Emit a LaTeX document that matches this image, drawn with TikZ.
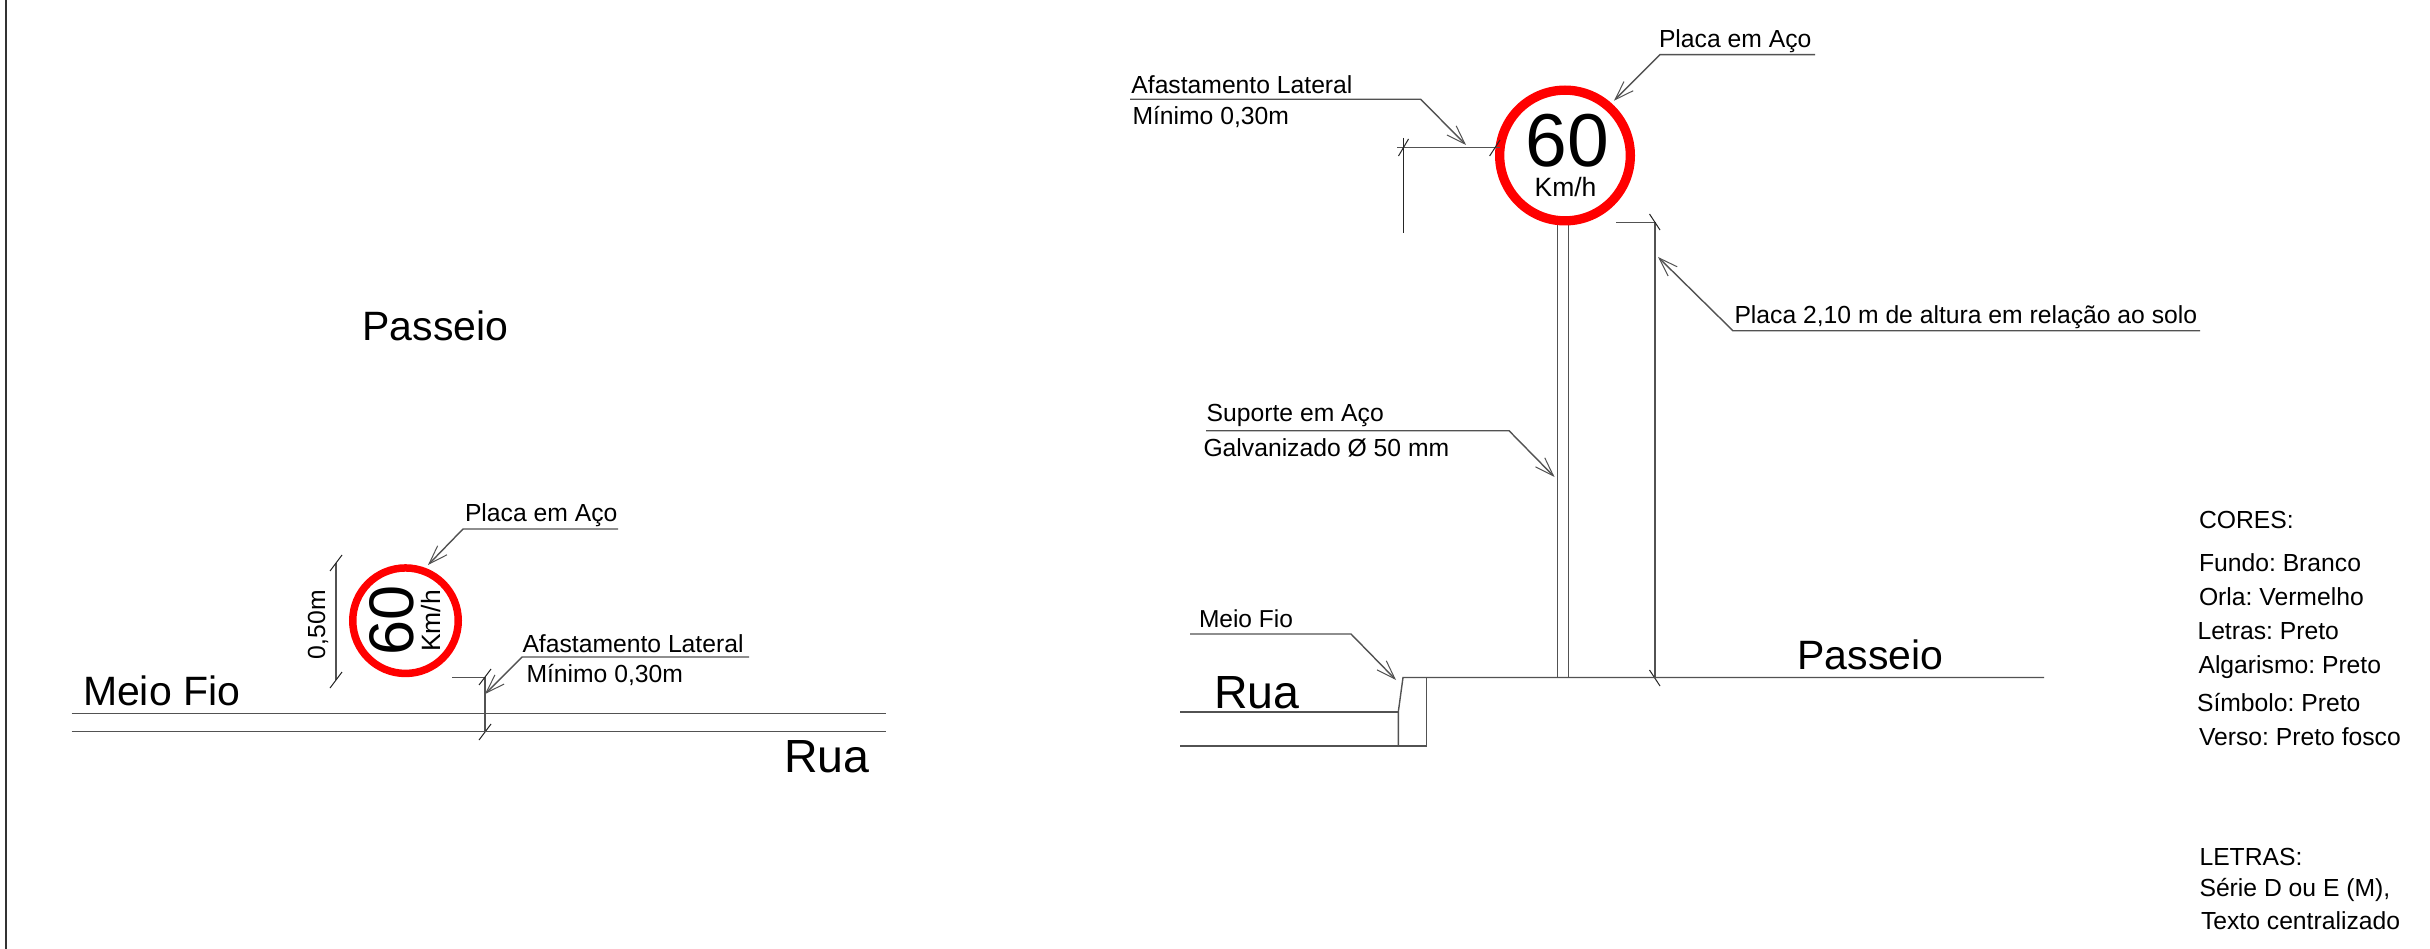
\documentclass[tikz,border=0pt]{standalone}
\usepackage{fontspec}
\setmainfont{Liberation Sans}
\usetikzlibrary{arrows.meta}
\tikzset{
  x=1pt,y=-1pt,
  ln/.style={line width=1.4pt,draw=black!68},
  thin ln/.style={line width=1pt,draw=black!85},
  lead/.style={ln,-{Straight Barb[length=19pt,width=13pt,line width=1pt]}},
  lbl/.style={anchor=base west,inner sep=0pt,outer sep=0pt,text=black},
  ring/.style={circle,draw=red,fill=white,inner sep=0pt},
}
\newcommand{\fs}[1]{\fontsize{#1}{#1}\selectfont}
\frenchspacing
\begin{document}
\begin{tikzpicture}
\useasboundingbox (0,0) rectangle (2430,949);
\fill[white] (0,0) rectangle (2430,949);
\coordinate (fa) at (6,0); \coordinate (fb) at (6,949);
\draw[line width=2.4pt,black!80] (fa) -- (fb);
% ---- left plan ----
\node[lbl,font=\fs{41}] (pl) at (362.5,341) {Passeio};
\node[ring,line width=7.5pt,minimum size=105.5pt] (s1) at (405.5,620.7) {};
\node[anchor=center,inner sep=0,rotate=90,font=\fs{63}] (s1a) at (392,620) {60};
\node[anchor=center,inner sep=0,rotate=90,font=\fs{26.5}] (s1b) at (431,621) {Km/h};
\node[lbl,rotate=90,font=\fs{24.7}] (d1) at (325,659) {0,50m};
\coordinate (d1a) at (336,563); \coordinate (d1b) at (336,680);
\draw[ln] (d1a) -- (d1b);
\draw[thin ln] (330,571) -- (342,555) (330,688) -- (342,672);
\node[lbl,font=\fs{24.7}] (p1) at (465,521.7) {Placa em Aço};
\coordinate (p1a) at (618,529); \coordinate (p1b) at (463,529); \coordinate (p1c) at (428,565);
\draw[lead] (p1a) -- (p1b) -- (p1c);
\node[lbl,font=\fs{24.7}] (a1) at (522.5,652.5) {Afastamento Lateral};
\node[lbl,font=\fs{24.7}] (a2) at (526.5,682.2) {Mínimo 0,30m};
\coordinate (a1a) at (749,657); \coordinate (a1b) at (522,657); \coordinate (a1c) at (485,694);
\draw[lead] (a1a) -- (a1b) -- (a1c);
\coordinate (e1) at (452,677.3); \coordinate (e2) at (485,677.3); \coordinate (e3) at (485,731.7);
\draw[ln] (e1) -- (e2) -- (e3);
\draw[thin ln] (479,685) -- (491,669) (479,740) -- (491,724);
\node[lbl,font=\fs{41}] (mf1) at (83,705) {Meio Fio};
\coordinate (r1a) at (71.5,713.2); \coordinate (r1b) at (886,713.2);
\coordinate (r2a) at (71.5,731.2); \coordinate (r2b) at (886,731.2);
\draw[ln] (r1a) -- (r1b); \draw[ln] (r2a) -- (r2b);
\node[lbl,font=\fs{46.5}] (rua1) at (784,772.5) {Rua};
% ---- right elevation ----
\coordinate (pa) at (1557.5,225); \coordinate (pb) at (1557.5,677.5);
\coordinate (pc) at (1568.7,225); \coordinate (pd) at (1568.7,677.5);
\draw[ln] (pa) -- (pb); \draw[ln] (pc) -- (pd);
\node[ring,line width=9.3pt,minimum size=130.7pt] (s2) at (1565,155.5) {};
\node[anchor=base,inner sep=0,font=\fs{75}] (s2a) at (1567,167) {60};
\node[anchor=base,inner sep=0,font=\fs{26.5}] (s2b) at (1565.5,197) {Km/h};
\node[lbl,font=\fs{24.7}] (p2) at (1659,47.2) {Placa em Aço};
\coordinate (p2a) at (1815,54.7); \coordinate (p2b) at (1660,54.7); \coordinate (p2c) at (1614,100.7);
\draw[lead] (p2a) -- (p2b) -- (p2c);
\node[lbl,font=\fs{24.7}] (a3) at (1131.4,93.2) {Afastamento Lateral};
\node[lbl,font=\fs{24.7}] (a4) at (1132.5,124.5) {Mínimo 0,30m};
\coordinate (a3a) at (1130,99.3); \coordinate (a3b) at (1420.7,99.3); \coordinate (a3c) at (1466,145);
\draw[lead] (a3a) -- (a3b) -- (a3c);
\coordinate (h1) at (1397,147.3); \coordinate (h2) at (1500,147.3);
\coordinate (h3) at (1403.5,138); \coordinate (h4) at (1403.5,232.7);
\draw[ln] (h1) -- (h2); \draw[thin ln] (h3) -- (h4);
\draw[thin ln] (1398.5,156) -- (1408.5,139) (1489.6,156) -- (1500,140);
\coordinate (v1) at (1616,222.4); \coordinate (v2) at (1655,222.4); \coordinate (v3) at (1655,677.5);
\draw[ln] (v1) -- (v2) -- (v3);
\draw[thin ln] (1649.5,214) -- (1660,230) (1649.5,670) -- (1660,686);
\node[lbl,font=\fs{24.7}] (h5) at (1734.5,324) {Placa 2,10 m de altura em relação ao solo};
\coordinate (h6) at (2200,330.8); \coordinate (h7) at (1733,330.8); \coordinate (h8) at (1658,257);
\draw[lead] (h6) -- (h7) -- (h8);
\node[lbl,font=\fs{24.7}] (su) at (1206.7,421.2) {Suporte em Aço};
\node[lbl,font=\fs{24.7}] (ga) at (1203.5,456.7) {Galvanizado Ø 50 mm};
\coordinate (su1) at (1206,430.7); \coordinate (su2) at (1509,430.7); \coordinate (su3) at (1554.5,477);
\draw[lead] (su1) -- (su2) -- (su3);
\node[lbl,font=\fs{24.5}] (mf2) at (1199,627.5) {Meio Fio};
\coordinate (m1) at (1190,634); \coordinate (m2) at (1351,634); \coordinate (m3) at (1396,680);
\draw[lead] (m1) -- (m2) -- (m3);
\node[lbl,font=\fs{46.5}] (rua2) at (1214,708) {Rua};
\node[lbl,font=\fs{41}] (pas2) at (1797.5,669) {Passeio};
\coordinate (g1) at (2044,677.5); \coordinate (g2) at (1403,677.5); \coordinate (g3) at (1398.3,711.8); \coordinate (g4) at (1398.3,746);
\draw[ln] (g1) -- (g2) -- (g3) -- (g4);
\coordinate (b1) at (1426.3,677.5); \coordinate (b2) at (1426.3,746); \coordinate (b3) at (1180,746);
\draw[ln] (b1) -- (b2) -- (b3);
\coordinate (r3) at (1180,711.8);
\draw[ln] (r3) -- (g3);
% ---- notes ----
\node[lbl,font=\fs{24.7}] (t1) at (2199,528.3) {CORES:};
\node[lbl,font=\fs{24.7}] (t2) at (2199,571) {Fundo: Branco};
\node[lbl,font=\fs{24.7}] (t3) at (2199,605) {Orla: Vermelho};
\node[lbl,font=\fs{24.7}] (t4) at (2197.5,639) {Letras: Preto};
\node[lbl,font=\fs{24.7}] (t5) at (2198.5,673) {Algarismo: Preto};
\node[lbl,font=\fs{24.7}] (t6) at (2197,711.2) {Símbolo: Preto};
\node[lbl,font=\fs{24.7}] (t7) at (2199,745) {Verso: Preto fosco};
\node[lbl,font=\fs{24.7}] (t8) at (2199.5,865.2) {LETRAS:};
\node[lbl,font=\fs{24.7}] (t9) at (2199.5,896.8) {Série D ou E (M),};
\node[lbl,font=\fs{24.7}] (t10) at (2201,929.5) {Texto centralizado};
\end{tikzpicture}
\end{document}
